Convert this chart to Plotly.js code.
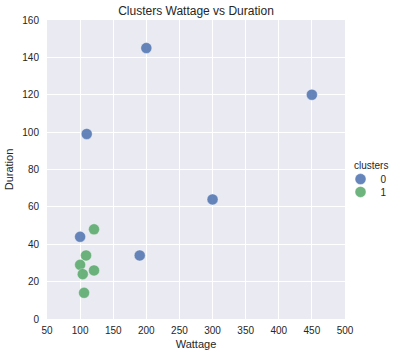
<!DOCTYPE html>
<html>
<head>
<meta charset="utf-8">
<script src="https://cdn.plot.ly/plotly-3.0.1.min.js"></script>
<style>html,body{margin:0;padding:0;background:#fff;}#chart{width:393px;height:358px;}</style>
</head>
<body>
<div id="chart"></div>
<script>
const cluster0Wattage = [200, 450, 110, 300, 100, 190];
const cluster0Duration = [145, 120, 99, 64, 44, 34];
const cluster1Wattage = [121, 109, 100, 104, 121, 106];
const cluster1Duration = [48, 34, 29, 24, 26, 14];
const clusterNames = ['0', '1'];
const xTicks = [50, 100, 150, 200, 250, 300, 350, 400, 450, 500];
const yTicks = [0, 20, 40, 60, 80, 100, 120, 140, 160];

const font = {family: 'Liberation Sans, Arial, sans-serif', color: '#262626'};
const markerBase = {size: 11, opacity: 0.85, line: {color: 'rgba(255,255,255,0.6)', width: 0.6}};

const traces = [
  {x: cluster0Wattage, y: cluster0Duration, mode: 'markers', type: 'scatter', name: clusterNames[0],
   marker: Object.assign({color: '#4C72B0'}, markerBase), cliponaxis: false, legend: 'legend'},
  {x: cluster1Wattage, y: cluster1Duration, mode: 'markers', type: 'scatter', name: clusterNames[1],
   marker: Object.assign({color: '#55A868'}, markerBase), cliponaxis: false, legend: 'legend2'}
];

const legendBase = {x: 0.985, xanchor: 'left', yanchor: 'middle', bgcolor: 'rgba(0,0,0,0)',
                    font: Object.assign({size: 10}, font), tracegroupgap: 0};

const layout = {
  width: 393, height: 358,
  margin: {l: 47, r: 48, t: 20, b: 39, pad: 0, autoexpand: false},
  paper_bgcolor: '#ffffff',
  plot_bgcolor: '#EAEAF2',
  font: Object.assign({size: 10}, font),
  title: {text: 'Clusters Wattage vs Duration', font: Object.assign({size: 12}, font),
          x: 0.5, xref: 'paper', xanchor: 'center', y: 1, yref: 'container', yanchor: 'top', pad: {t: 7}},
  xaxis: {range: [50, 500], tickvals: xTicks, ticktext: xTicks.map(String),
          showgrid: true, gridcolor: '#ffffff', gridwidth: 1, zeroline: false, showline: false,
          ticks: 'outside', ticklen: 2, tickcolor: 'rgba(0,0,0,0)', tickfont: Object.assign({size: 10}, font),
          title: {text: 'Wattage', font: Object.assign({size: 11}, font), standoff: 5}},
  yaxis: {range: [0, 160], tickvals: yTicks, ticktext: yTicks.map(String),
          showgrid: true, gridcolor: '#ffffff', gridwidth: 1, zeroline: false, showline: false,
          ticks: 'outside', ticklen: 5, tickcolor: 'rgba(0,0,0,0)', tickfont: Object.assign({size: 10}, font),
          title: {text: 'Duration', font: Object.assign({size: 11}, font), standoff: 6}},
  showlegend: true,
  legend: Object.assign({y: 0.468}, legendBase),
  legend2: Object.assign({y: 0.425}, legendBase),
  annotations: [{text: 'clusters', xref: 'paper', yref: 'paper', x: 1.0235, y: 0.515,
                 xanchor: 'left', yanchor: 'middle', showarrow: false,
                 font: Object.assign({size: 10}, font)}]
};

Plotly.newPlot('chart', traces, layout, {displayModeBar: false, staticPlot: true});
</script>
</body>
</html>
